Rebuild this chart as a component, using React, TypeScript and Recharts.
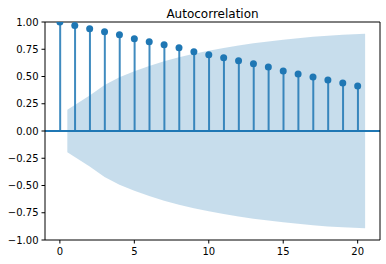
import {
  ComposedChart,
  Area,
  Bar,
  Scatter,
  XAxis,
  YAxis,
  ReferenceLine,
} from "recharts"

// autocorrelation at each lag
const lags = [0, 1, 2, 3, 4, 5, 6, 7, 8, 9, 10, 11, 12, 13, 14, 15, 16, 17, 18, 19, 20]
const acfValues = [
  1.0, 0.967, 0.939, 0.911, 0.884, 0.847, 0.819, 0.791, 0.764, 0.727, 0.699, 0.672, 0.644,
  0.616, 0.588, 0.551, 0.524, 0.496, 0.468, 0.44, 0.413,
]

// confidence band (half width), first and last points pushed out by half a lag
const bandX = [0.5, 2, 3, 4, 5, 6, 7, 8, 9, 10, 11, 12, 13, 14, 15, 16, 17, 18, 19, 20.5]
const bandHalf = [
  0.196, 0.325, 0.422, 0.492, 0.549, 0.597, 0.639, 0.676, 0.708, 0.736, 0.761, 0.784, 0.804,
  0.822, 0.838, 0.852, 0.864, 0.875, 0.884, 0.893,
]

const xTicks = [0, 5, 10, 15, 20]
const yTicks = [-1, -0.75, -0.5, -0.25, 0, 0.25, 0.5, 0.75, 1]

const BLUE = "#1f77b4"
const FONT = "'DejaVu Sans', sans-serif"

// merge both series on one numeric x axis
const rows: Record<number, any> = {}
lags.forEach((x, i) => {
  rows[x] = { ...(rows[x] || {}), x, acf: acfValues[i] }
})
bandX.forEach((x, i) => {
  rows[x] = { ...(rows[x] || {}), x, band: [-bandHalf[i], bandHalf[i]] }
})
const data = Object.values(rows).sort((a, b) => a.x - b.x)

const fmt = (v: number) => v.toFixed(2).replace("-", "\u2212")

const Dot = (props: any) => {
  if (props.cx == null || props.cy == null) return null
  return <circle cx={props.cx} cy={props.cy} r={3.5} fill={BLUE} />
}

export default function App() {
  return (
    <div style={{ position: "absolute", left: 0, top: 0, width: 386, height: 264, background: "#fff" }}>
      <div
        style={{
          position: "absolute",
          left: 45,
          width: 335,
          top: 7,
          textAlign: "center",
          fontFamily: FONT,
          fontSize: 12,
          lineHeight: "14px",
          color: "#000",
        }}
      >
        Autocorrelation
      </div>
      <ComposedChart width={386} height={264} data={data} margin={{ top: 21, right: 5, left: 0, bottom: 0 }}>
        <XAxis
          dataKey="x"
          type="number"
          domain={[-1, 21.5]}
          ticks={xTicks}
          allowDataOverflow
          height={24}
          tickSize={3.5}
          tickMargin={4}
          stroke="#000"
          tick={{ fill: "#000", fontSize: 10, fontFamily: FONT }}
          axisLine={{ stroke: "#000", strokeWidth: 1 }}
        />
        {/* top spine */}
        <XAxis
          xAxisId="top"
          orientation="top"
          dataKey="x"
          type="number"
          domain={[-1, 21.5]}
          allowDataOverflow
          height={1}
          tick={false}
          tickLine={false}
          axisLine={{ stroke: "#000", strokeWidth: 1 }}
        />
        <YAxis
          type="number"
          domain={[-1, 1]}
          ticks={yTicks}
          allowDataOverflow
          width={45}
          tickSize={3.5}
          tickMargin={3}
          tickFormatter={fmt}
          stroke="#000"
          tick={{ fill: "#000", fontSize: 10, fontFamily: FONT }}
          axisLine={{ stroke: "#000", strokeWidth: 1 }}
        />
        {/* right spine */}
        <YAxis
          yAxisId="right"
          orientation="right"
          type="number"
          domain={[-1, 1]}
          allowDataOverflow
          width={1}
          tick={false}
          tickLine={false}
          axisLine={{ stroke: "#000", strokeWidth: 1 }}
        />
        <Bar dataKey="acf" barSize={2} fill={BLUE} fillOpacity={0.85} isAnimationActive={false} />
        <Area
          type="linear"
          dataKey="band"
          stroke="none"
          fill={BLUE}
          fillOpacity={0.25}
          connectNulls
          dot={false}
          activeDot={false}
          isAnimationActive={false}
        />
        <ReferenceLine y={0} stroke={BLUE} strokeWidth={2} />
        <Scatter dataKey="acf" shape={<Dot />} isAnimationActive={false} />
      </ComposedChart>
    </div>
  )
}
